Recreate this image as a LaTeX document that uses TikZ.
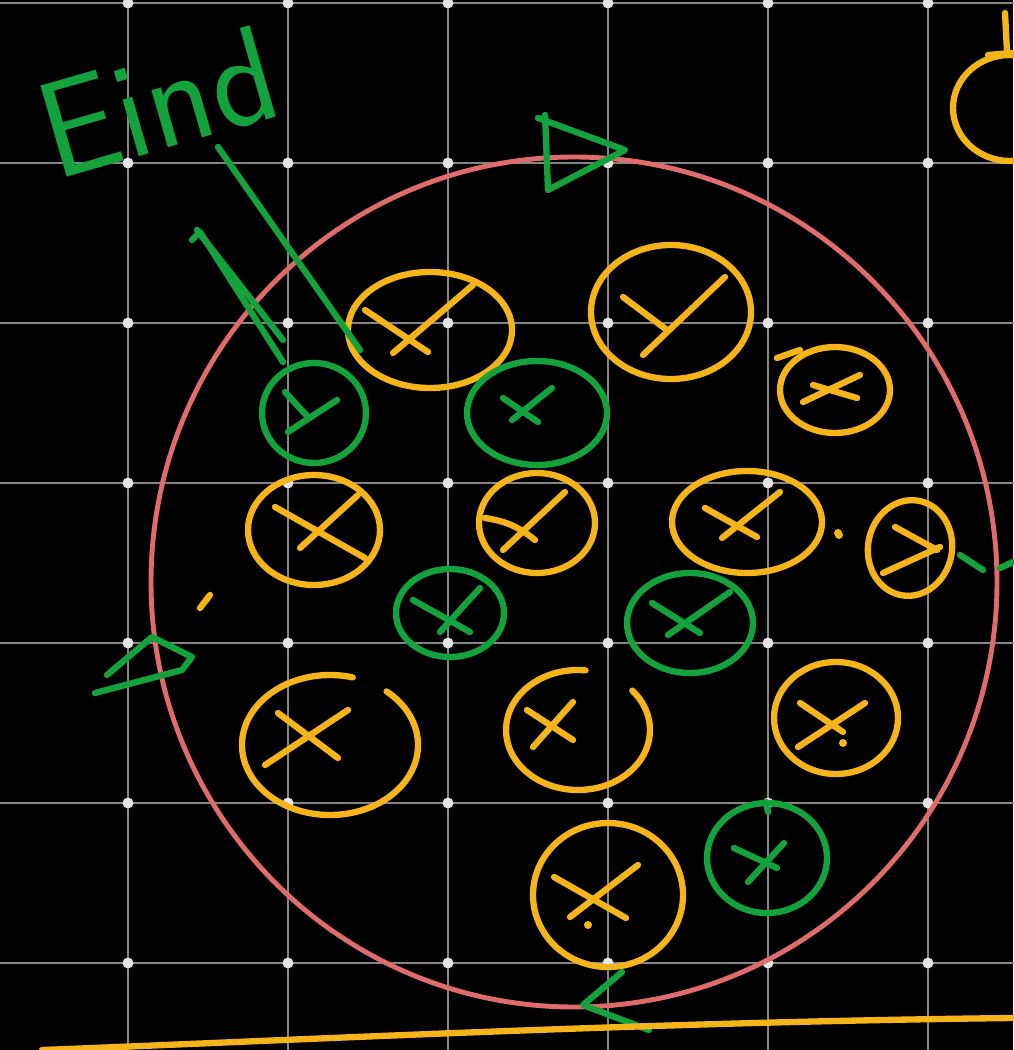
\documentclass[tikz,border=0pt]{standalone}
\usetikzlibrary{calc}
\definecolor{gridgray}{HTML}{858585}
\definecolor{griddot}{HTML}{E6E6E6}
\definecolor{inkyellow}{HTML}{F4B41A}
\definecolor{inkgreen}{HTML}{14A23C}
\definecolor{inkred}{HTML}{E06B6B}

\begin{document}
\begin{tikzpicture}[x=0.02cm, y=-0.02cm, line cap=round, line join=round,
    yel/.style={draw=inkyellow, line width=3.6pt},
    grn/.style={draw=inkgreen, line width=3.6pt},
    gridline/.style={draw=gridgray, line width=1.6pt}]
  \fill[black] (0,0) rectangle (1013,1050);
  \useasboundingbox (0,0) rectangle (1013,1050);

  % board grid
  \foreach \gx in {128,288,...,928}
    \draw[gridline] (\gx,0) -- (\gx,1050);
  \foreach \gy in {3,163,...,963}
    \draw[gridline] (0,\gy) -- (1013,\gy);
  \foreach \gx in {128,288,...,928}
    \foreach \gy in {3,163,...,963}
      \fill[griddot] (\gx,\gy) circle[radius=5.5];

  % big red circle
  \draw[inkred, line width=2.8pt] (574,582) ellipse[x radius=423, y radius=425];

  % yellow circles
  \draw[yel] (430,330) ellipse[x radius=82, y radius=58];
  \draw[yel] (365,310) -- (428,352);
  \draw[yel] (473,285) -- (393,353);

  \draw[yel] (671,312) ellipse[x radius=80, y radius=67];
  \draw[yel] (623,297) -- (667,330);
  \draw[yel] (725,277) -- (643,355);

  \draw[yel] (777,358) -- (800,350);
  \draw[yel] (835,390) ellipse[x radius=55, y radius=43];
  \draw[yel] (813,385) -- (857,398);
  \draw[yel] (860,375) -- (803,402);

  \draw[yel] (314,530) ellipse[x radius=66, y radius=55];
  \draw[yel] (275,507) -- (365,558);
  \draw[yel] (358,495) -- (300,548);

  \draw[yel] (537,523) ellipse[x radius=58, y radius=50];
  \draw[yel] (485,518) to[bend left=15] (535,540);
  \draw[yel] (565,492) -- (503,550);

  \draw[yel] (747,522) ellipse[x radius=75, y radius=51];
  \draw[yel] (705,508) -- (757,537);
  \draw[yel] (780,492) -- (722,538);
  \fill[inkyellow] (838,533) circle[radius=4];

  \draw[yel, rotate around={-10:(910,548)}] (910,548) ellipse[x radius=42, y radius=48];
  \draw[yel] (895,527) -- (937,550);
  \draw[yel] (883,573) -- (940,547);

  \draw[yel] (330,745) ++(-50:88 and 70)
    arc[start angle=-50, end angle=285, x radius=88, y radius=70];
  \draw[yel] (278,713) -- (338,758);
  \draw[yel] (348,710) -- (265,765);

  \draw[yel] (578,730) ++(-41:72 and 60)
    arc[start angle=-41, end angle=276, x radius=72, y radius=60];
  \draw[yel] (527,710) -- (573,740);
  \draw[yel] (573,702) -- (533,747);

  \draw[yel] (836,718) ellipse[x radius=62, y radius=56];
  \draw[yel] (800,703) -- (843,732);
  \draw[yel] (865,703) -- (798,747);
  \fill[inkyellow] (843,743) circle[radius=4];

  \draw[yel] (608,895) ellipse[x radius=75, y radius=72];
  \draw[yel] (554,877) -- (626,918);
  \draw[yel] (638,865) -- (570,917);
  \fill[inkyellow] (588,925) circle[radius=4];

  % green circles
  \draw[grn] (314,413) ellipse[x radius=52, y radius=50];
  \draw[grn] (285,392) -- (308,417);
  \draw[grn] (337,400) -- (288,432);

  \draw[grn] (537,413) ellipse[x radius=70, y radius=52];
  \draw[grn] (503,398) -- (538,422);
  \draw[grn] (552,388) -- (512,420);

  \draw[grn] (450,613) ellipse[x radius=54, y radius=44];
  \draw[grn] (413,600) -- (470,632);
  \draw[grn] (480,588) -- (440,632);

  \draw[grn] (690,623) ellipse[x radius=63, y radius=50];
  \draw[grn] (652,603) -- (700,633);
  \draw[grn] (730,592) -- (668,635);

  \draw[grn] (766,802) -- (768,812);
  \draw[grn] (767,858) ellipse[x radius=60, y radius=55];
  \draw[grn] (734,848) -- (777,868);
  \draw[grn] (784,843) -- (748,882);

  % label and pointers
  \node[text=inkgreen, font=\sffamily\fontsize{78}{78}\selectfont, rotate=16]
    (endlabel) at (158,102) {Eind};
  \coordinate (tipA) at (360,350);
  \coordinate (tipB) at (283,340);
  \coordinate (tipC) at (283,362);
  \draw[grn] (218,147) -- (tipA);
  \draw[grn] (197,230) -- (tipB);
  \draw[grn] (192,240) -- (200,232) -- (tipC);

  % green side marks
  \draw[grn] (545,115) -- (548,190) -- (625,150) -- (538,118);
  \draw[grn] (107,675) -- (152,637) -- (192,657) -- (182,670) -- (95,693);
  \draw[grn] (622,972) -- (583,1005) -- (649,1030);
  \draw[grn] (960,555) -- (983,570);
  \draw[grn] (1000,568) -- (1013,562);

  % yellow extras
  \draw[yel] (200,608) -- (210,595);
  \fill[inkyellow] (839,535) circle[radius=4];
  \draw[yel] (42,1050) .. controls (300,1040) and (650,1022) .. (1013,1018);
  \draw[yel] (1005,13) -- (1007,52);
  \draw[yel] (988,55) -- (1012,53);
  \draw[yel] (1010,108) ellipse[x radius=57, y radius=53];
\end{tikzpicture}
\end{document}
